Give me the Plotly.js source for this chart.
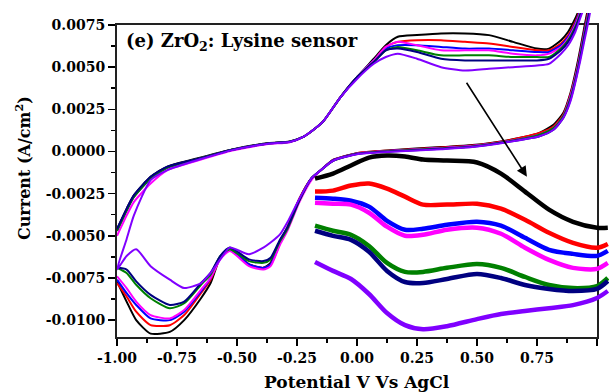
<!DOCTYPE html>
<html><head><meta charset="utf-8">
<script src="https://cdn.plot.ly/plotly-3.0.1.min.js"></script>
<style>html,body{margin:0;padding:0;background:#fff}#chart{width:609px;height:392px}</style>
</head><body><div id="chart"></div>
<script>
// ---- series identity ----
const seriesNames = ['black', 'red', 'blue', 'magenta', 'green', 'navy', 'violet'];
const seriesColors = ['#000000', '#ff0000', '#0000ff', '#ff00ff', '#008000', '#000080', '#8000ff'];

// ---- forward (anodic) scan ----
const fwdX = [-1, -0.96, -0.93, -0.86, -0.79, -0.65, -0.52, -0.37, -0.28, -0.22, -0.18, -0.14, -0.07, 0, 0.07, 0.12, 0.17, 0.25, 0.35, 0.45, 0.55, 0.65, 0.75, 0.8, 0.85, 0.88, 0.91, 0.95];
const fwdBlack   = [-0.0046, -0.0034, -0.0026, -0.0015, -0.0009, -0.00035, 0.00012, 0.0005, 0.0006, 0.0009, 0.0013, 0.0018, 0.0032, 0.0044, 0.0055, 0.0063, 0.0068, 0.0069, 0.0070, 0.0070, 0.0069, 0.0065, 0.0061, 0.0061, 0.0066, 0.0071, 0.0079, 0.0092];
const fwdRed     = [-0.0047, -0.0035, -0.0027, -0.0016, -0.00095, -0.0004, 0.0001, 0.00048, 0.00058, 0.0009, 0.0013, 0.0018, 0.0032, 0.0044, 0.0054, 0.0062, 0.0065, 0.0066, 0.0066, 0.0065, 0.0064, 0.0062, 0.0060, 0.0060, 0.0064, 0.0069, 0.0077, 0.0091];
const fwdBlue    = [-0.0047, -0.0035, -0.0027, -0.0016, -0.00095, -0.0004, 0.0001, 0.00048, 0.00058, 0.0009, 0.0013, 0.0018, 0.0032, 0.0044, 0.0054, 0.0061, 0.0063, 0.0063, 0.0062, 0.0061, 0.0061, 0.0060, 0.0059, 0.0059, 0.0063, 0.0068, 0.0076, 0.0090];
const fwdMagenta = [-0.0050, -0.0038, -0.0030, -0.0019, -0.0011, -0.00048, 0.00005, 0.00044, 0.00055, 0.0009, 0.0013, 0.0018, 0.0032, 0.0044, 0.0054, 0.0062, 0.0065, 0.0063, 0.0060, 0.0060, 0.0060, 0.0058, 0.0057, 0.0058, 0.0062, 0.0067, 0.0075, 0.0089];
const fwdGreen   = [-0.0047, -0.0035, -0.0027, -0.0016, -0.00095, -0.0004, 0.0001, 0.00048, 0.00058, 0.0009, 0.0013, 0.0018, 0.0032, 0.0044, 0.0053, 0.0060, 0.0062, 0.0060, 0.0057, 0.0057, 0.0057, 0.0056, 0.0056, 0.0056, 0.0061, 0.0066, 0.0074, 0.0088];
const fwdNavy    = [-0.0046, -0.0034, -0.0026, -0.0015, -0.0009, -0.0004, 0.0001, 0.00048, 0.00058, 0.0009, 0.0013, 0.0018, 0.0032, 0.0044, 0.0053, 0.0060, 0.0061, 0.0059, 0.0055, 0.0054, 0.0054, 0.0054, 0.0054, 0.0055, 0.0060, 0.0065, 0.0073, 0.0087];
const fwdViolet  = [-0.0070, -0.0052, -0.0038, -0.0017, -0.0011, -0.00045, 0.00008, 0.00046, 0.00056, 0.0009, 0.0013, 0.0018, 0.0032, 0.0043, 0.0052, 0.0056, 0.0058, 0.0055, 0.0050, 0.0048, 0.0049, 0.0050, 0.0051, 0.0052, 0.0058, 0.0063, 0.0071, 0.0086];

// ---- reverse (cathodic) scan ----
const revX = [0.975, 0.945, 0.915, 0.89, 0.86, 0.82, 0.76, 0.625, 0.48, 0.35, 0.14, 0, -0.1, -0.15, -0.19, -0.24, -0.29, -0.32, -0.36, -0.39, -0.45, -0.53, -0.57, -0.61, -0.65, -0.72, -0.78, -0.86, -0.92, -0.96, -1];
const revBlack   = [0.0097, 0.0072, 0.0050, 0.0035, 0.0023, 0.0016, 0.0011, 0.00066, 0.00038, 0.00026, 0.00008, -0.0001, -0.0005, -0.0011, -0.0016, -0.0028, -0.0045, -0.0053, -0.0066, -0.0069, -0.0067, -0.0058, -0.0063, -0.0078, -0.0087, -0.0100, -0.0107, -0.0108, -0.0100, -0.0089, -0.0077];
const revRed     = [0.0095, 0.0070, 0.0048, 0.0034, 0.0022, 0.0015, 0.0011, 0.00064, 0.00036, 0.00024, 0.00006, -0.0001, -0.0005, -0.0011, -0.0016, -0.0028, -0.0045, -0.0054, -0.0067, -0.0069, -0.0067, -0.0058, -0.0063, -0.0076, -0.0084, -0.0097, -0.0103, -0.0103, -0.0095, -0.0086, -0.0078];
const revBlue    = [0.0093, 0.0069, 0.0047, 0.0033, 0.0021, 0.0014, 0.0010, 0.00060, 0.00032, 0.0002, 0.00004, -0.00012, -0.00052, -0.0011, -0.0016, -0.0029, -0.0046, -0.0054, -0.0067, -0.0069, -0.0067, -0.0058, -0.0063, -0.0075, -0.0083, -0.0095, -0.0100, -0.0099, -0.0091, -0.0084, -0.0076];
const revMagenta = [0.0092, 0.0068, 0.0047, 0.0033, 0.0021, 0.0014, 0.0010, 0.00060, 0.00032, 0.0002, 0.00003, -0.00013, -0.00055, -0.0011, -0.0017, -0.0030, -0.0047, -0.0055, -0.0068, -0.0070, -0.0068, -0.0059, -0.0064, -0.0075, -0.0082, -0.0094, -0.0099, -0.0097, -0.0089, -0.0081, -0.0074];
const revGreen   = [0.0091, 0.0067, 0.0046, 0.0032, 0.0021, 0.0014, 0.0010, 0.00058, 0.0003, 0.00018, 0.00002, -0.00014, -0.00055, -0.0011, -0.0016, -0.0029, -0.0046, -0.0053, -0.0064, -0.0066, -0.0065, -0.0058, -0.0062, -0.0073, -0.0079, -0.0090, -0.0093, -0.0087, -0.0079, -0.0072, -0.0069];
const revNavy    = [0.0090, 0.0066, 0.0045, 0.0031, 0.0020, 0.0013, 0.0009, 0.00056, 0.00028, 0.00016, 0, -0.00015, -0.00055, -0.0011, -0.0016, -0.0029, -0.0045, -0.0052, -0.0063, -0.0065, -0.0064, -0.0057, -0.0062, -0.0072, -0.0078, -0.0089, -0.0091, -0.0085, -0.0077, -0.0070, -0.0069];
const revViolet  = [0.0088, 0.0064, 0.0044, 0.0030, 0.0020, 0.0013, 0.0009, 0.00055, 0.00026, 0.00014, -0.00002, -0.00016, -0.00055, -0.0011, -0.0016, -0.0028, -0.0042, -0.0049, -0.0054, -0.0057, -0.0061, -0.0057, -0.0064, -0.0072, -0.0078, -0.0081, -0.0076, -0.0068, -0.0058, -0.0062, -0.0070];

// ---- magnified inset (thick curves) ----
const insX = [-0.175, -0.1, -0.025, 0.05, 0.125, 0.2, 0.275, 0.375, 0.5, 0.6, 0.7, 0.8, 0.9, 1.0, 1.045];
const insBlack   = [-0.00161, -0.00131, -0.00083, -0.00036, -0.00024, -0.0003, -0.00048, -0.00054, -0.00065, -0.00131, -0.00238, -0.00345, -0.00417, -0.00452, -0.00452];
const insRed     = [-0.00238, -0.00232, -0.00202, -0.0019, -0.0022, -0.00268, -0.00315, -0.00315, -0.0031, -0.00339, -0.00405, -0.00482, -0.00542, -0.00571, -0.00548];
const insBlue    = [-0.00274, -0.0028, -0.00292, -0.00327, -0.00411, -0.00464, -0.00458, -0.00435, -0.00417, -0.0044, -0.00512, -0.00583, -0.00607, -0.00619, -0.00589];
const insMagenta = [-0.00304, -0.0031, -0.00315, -0.00363, -0.00446, -0.005, -0.00494, -0.00464, -0.00452, -0.00488, -0.00571, -0.00643, -0.0069, -0.00696, -0.00661];
const insGreen   = [-0.0044, -0.0047, -0.00494, -0.0056, -0.00661, -0.00714, -0.00714, -0.0069, -0.00667, -0.0069, -0.00744, -0.00792, -0.0081, -0.00798, -0.0075];
const insNavy    = [-0.0047, -0.005, -0.00524, -0.00595, -0.00708, -0.00774, -0.0078, -0.00756, -0.00726, -0.0075, -0.00792, -0.00815, -0.00827, -0.00815, -0.00768];
const insViolet  = [-0.00655, -0.00708, -0.00756, -0.00845, -0.00958, -0.0103, -0.01054, -0.01036, -0.00994, -0.00964, -0.00946, -0.00929, -0.00911, -0.00869, -0.00827];

// ---- ticks / labels ----
const xTickVals = [-1, -0.75, -0.5, -0.25, 0, 0.25, 0.5, 0.75, 1];
const xTickText = ['-1.00', '-0.75', '-0.50', '-0.25', '0.00', '0.25', '0.50', '0.75', '1.00'];
const yTickVals = [-0.01, -0.0075, -0.005, -0.0025, 0, 0.0025, 0.005, 0.0075];
const yTickText = ['-0.0100', '-0.0075', '-0.0050', '-0.0025', '0.0000', '0.0025', '0.0050', '0.0075'];
const chartTitle = '(e) ZrO<sub>2</sub>: Lysine sensor';
const xTitle = 'Potential V Vs AgCl';
const yTitle = 'Current (A/cm<sup>2</sup>)';

const fwdSets = [fwdBlack, fwdRed, fwdBlue, fwdMagenta, fwdGreen, fwdNavy, fwdViolet];
const revSets = [revBlack, revRed, revBlue, revMagenta, revGreen, revNavy, revViolet];
const insSets = [insBlack, insRed, insBlue, insMagenta, insGreen, insNavy, insViolet];

const traces = [{x: [], y: [], xaxis: 'x', yaxis: 'y', type: 'scatter', mode: 'lines', hoverinfo: 'skip'}];
seriesNames.forEach((n, i) => {
  traces.push({
    type: 'scatter', mode: 'lines', name: n,
    x: fwdX.concat(revX), y: fwdSets[i].concat(revSets[i]),
    xaxis: 'x2', yaxis: 'y2',
    line: {color: seriesColors[i], width: 2, shape: 'spline', smoothing: 0.6}
  });
});
seriesNames.forEach((n, i) => {
  traces.push({
    type: 'scatter', mode: 'lines', name: n + ' inset',
    x: insX, y: insSets[i],
    xaxis: 'x2', yaxis: 'y2',
    line: {color: seriesColors[i], width: 4.5, shape: 'spline', smoothing: 0.8}
  });
});

const PW = 492, PH = 324, FW = 480, FH = 312;
const xRange = [-1, 1], yRange = [-0.011, 0.0075];
const tickFont = {family: 'DejaVu Serif', size: 14, color: '#000', weight: 'bold'};

const layout = {
  width: 609, height: 392,
  margin: {l: 117, r: 0, t: 13, b: 55, pad: 0},
  paper_bgcolor: '#ffffff', plot_bgcolor: 'rgba(0,0,0,0)',
  showlegend: false,
  font: {family: 'DejaVu Serif', color: '#000'},
  xaxis: {
    domain: [0, FW / PW], range: xRange, anchor: 'y',
    tickmode: 'array', tickvals: xTickVals, ticktext: xTickText,
    ticks: 'outside', ticklen: 7, tickwidth: 1.5, tickcolor: '#000',
    showline: true, linewidth: 2, linecolor: '#222', mirror: true,
    showgrid: false, zeroline: false, tickfont: tickFont,
    minor: {tickmode: 'linear', tick0: -1, dtick: 0.125, ticks: 'outside', ticklen: 4, tickwidth: 1.5, tickcolor: '#000', showgrid: false}
  },
  yaxis: {
    domain: [0, FH / PH], range: yRange, anchor: 'x',
    tickmode: 'array', tickvals: yTickVals, ticktext: yTickText,
    ticks: 'outside', ticklen: 7, tickwidth: 1.5, tickcolor: '#000',
    showline: true, linewidth: 2, linecolor: '#222', mirror: true,
    showgrid: false, zeroline: false, tickfont: tickFont,
    minor: {tickmode: 'linear', tick0: 0, dtick: 0.00125, ticks: 'outside', ticklen: 4, tickwidth: 1.5, tickcolor: '#000', showgrid: false}
  },
  xaxis2: {domain: [0, 1], range: [xRange[0], xRange[0] + (xRange[1] - xRange[0]) * PW / FW], anchor: 'y2', visible: false},
  yaxis2: {domain: [0, 1], range: [yRange[0], yRange[0] + (yRange[1] - yRange[0]) * PH / FH], anchor: 'x2', visible: false},
  annotations: [
    {xref: 'x', yref: 'y', x: -0.972, y: 0.0065, xanchor: 'left', yanchor: 'middle', showarrow: false,
     text: chartTitle, font: {family: 'DejaVu Serif', size: 18, color: '#000', weight: 'bold'}},
    {xref: 'paper', yref: 'paper', x: 0.4878, y: -0.139, xanchor: 'center', yanchor: 'middle', showarrow: false,
     text: xTitle, font: {family: 'DejaVu Serif', size: 17, color: '#000', weight: 'bold'}},
    {xref: 'paper', yref: 'paper', x: -0.192, y: 0.52, xanchor: 'center', yanchor: 'middle', showarrow: false, textangle: -90,
     text: yTitle, font: {family: 'DejaVu Serif', size: 16, color: '#000', weight: 'bold'}},
    {xref: 'x', yref: 'y', x: 0.708, y: -0.0015, axref: 'x', ayref: 'y', ax: 0.442, ay: 0.0044,
     showarrow: true, arrowhead: 2, arrowsize: 1.3, arrowwidth: 1.6, arrowcolor: '#000', text: ' '}
  ]
};

Plotly.newPlot('chart', traces, layout, {staticPlot: true, displayModeBar: false});
</script>
</body></html>
